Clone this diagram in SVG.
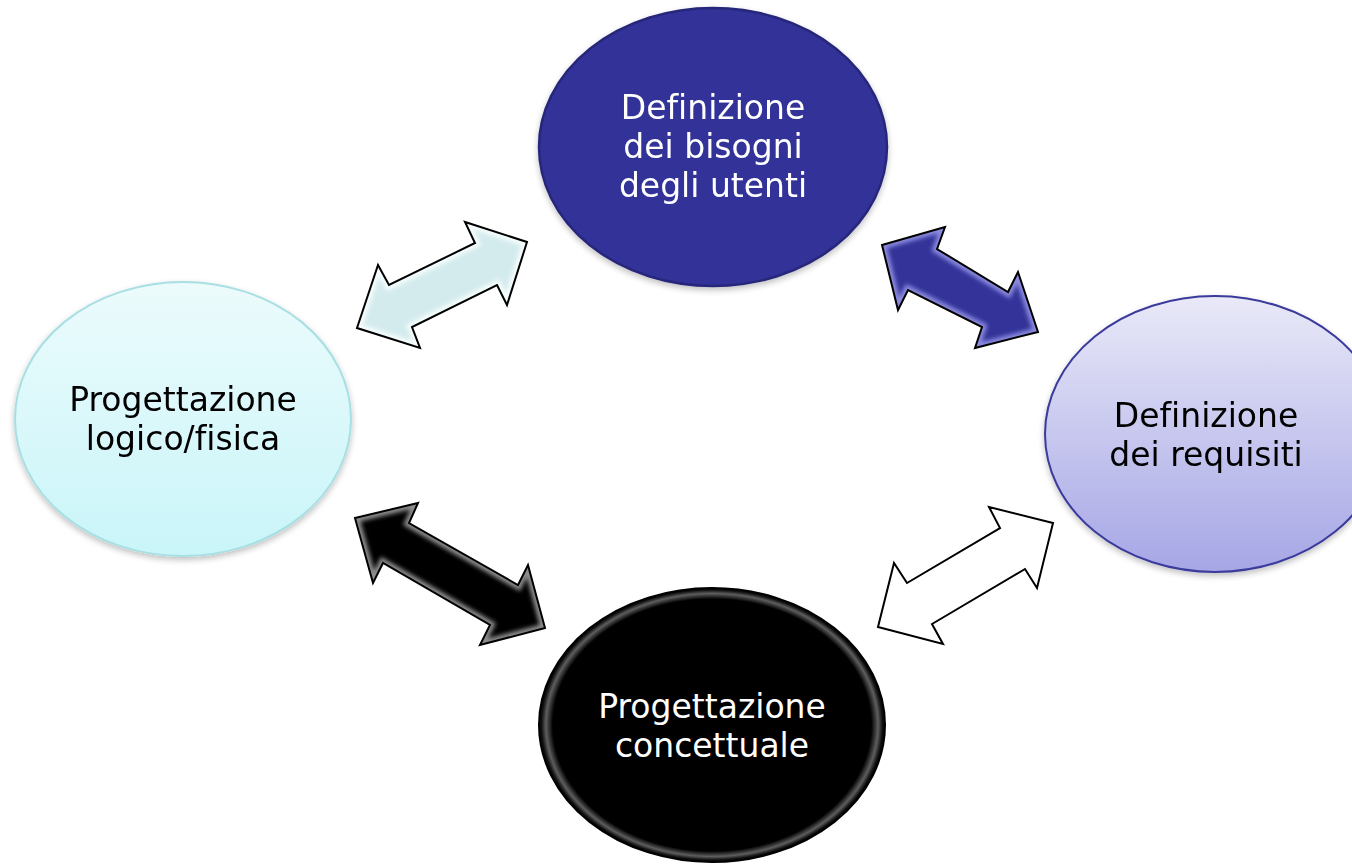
<svg xmlns="http://www.w3.org/2000/svg" xmlns:xlink="http://www.w3.org/1999/xlink" width="1352" height="864" viewBox="0 0 1352 864">
<style>
  .lbl { font-family: "DejaVu Sans", Verdana, sans-serif; font-size: 33px; text-anchor: middle; font-variant-ligatures: none; }
  .w { fill: #ffffff; }
  .k { fill: #000000; }
  .outline { fill: none; stroke: #000000; stroke-width: 2; stroke-linejoin: miter; }
</style>
<defs>
  <linearGradient id="gLeft" x1="0" y1="0" x2="0" y2="1">
    <stop offset="0" stop-color="#ecfbfc"/>
    <stop offset="1" stop-color="#c9f5f9"/>
  </linearGradient>
  <linearGradient id="gRight" x1="0" y1="0" x2="0" y2="1">
    <stop offset="0" stop-color="#e9e9f8"/>
    <stop offset="1" stop-color="#a6a6e6"/>
  </linearGradient>
  <radialGradient id="gBlack" cx="0.5" cy="0.5" r="0.5">
    <stop offset="0" stop-color="#000"/>
    <stop offset="0.92" stop-color="#000"/>
    <stop offset="0.96" stop-color="#5e5e5e"/>
    <stop offset="0.985" stop-color="#111"/>
    <stop offset="1" stop-color="#000"/>
  </radialGradient>
  <filter id="blur" x="-10%" y="-10%" width="120%" height="120%">
    <feGaussianBlur stdDeviation="2"/>
  </filter>
  <filter id="shadow" x="-10%" y="-10%" width="120%" height="125%">
    <feGaussianBlur in="SourceAlpha" stdDeviation="3"/>
    <feOffset dy="3"/>
    <feComponentTransfer><feFuncA type="linear" slope="0.25"/></feComponentTransfer>
    <feMerge><feMergeNode/><feMergeNode in="SourceGraphic"/></feMerge>
  </filter>
  <path id="a1" d="M357,328 L378,265 L389,285 L475,243 L465,222 L527,242 L507,305 L497,285 L412,327 L420,348 Z"/>
  <path id="a2" d="M882,245 L945,227 L937,249 L1008,292 L1018,272 L1038,332 L975,348 L982,327 L908,290 L898,310 Z"/>
  <path id="a3" d="M355,518 L418,503 L409,523 L518,585 L528,565 L545,628 L480,645 L490,625 L383,563 L373,583 Z"/>
  <path id="a4" d="M878,627 L894,563 L907,583 L1000,528 L989,507 L1053,523 L1037,588 L1025,569 L932,624 L943,644 Z"/>
  <clipPath id="c1"><use xlink:href="#a1"/></clipPath>
  <clipPath id="c2"><use xlink:href="#a2"/></clipPath>
  <clipPath id="c3"><use xlink:href="#a3"/></clipPath>
</defs>

<g id="connectors">
  <g id="arrow-top-left">
    <use xlink:href="#a1" fill="#d4ebee"/>
    <g clip-path="url(#c1)">
      <use xlink:href="#a1" fill="none" stroke="#f6fdfd" stroke-width="9" filter="url(#blur)"/>
    </g>
    <use xlink:href="#a1" class="outline"/>
  </g>
  <g id="arrow-top-right">
    <use xlink:href="#a2" fill="#333399"/>
    <g clip-path="url(#c2)">
      <use xlink:href="#a2" fill="none" stroke="#8a8ae0" stroke-width="9" filter="url(#blur)"/>
    </g>
    <use xlink:href="#a2" class="outline"/>
  </g>
  <g id="arrow-bottom-left">
    <use xlink:href="#a3" fill="#000000"/>
    <g clip-path="url(#c3)">
      <use xlink:href="#a3" fill="none" stroke="#8c8c8c" stroke-width="9" filter="url(#blur)"/>
    </g>
    <use xlink:href="#a3" class="outline"/>
  </g>
  <g id="arrow-bottom-right">
    <use xlink:href="#a4" fill="#ffffff"/>
    <use xlink:href="#a4" class="outline"/>
  </g>
</g>

<g id="node-bisogni" filter="url(#shadow)">
  <ellipse cx="713" cy="147" rx="174" ry="139" fill="#333399" stroke="#27277a" stroke-width="2.5"/>
  <text class="lbl w" x="713" y="119">Definizione</text>
  <text class="lbl w" x="713" y="158">dei bisogni</text>
  <text class="lbl w" x="713" y="197">degli utenti</text>
</g>

<g id="node-requisiti" filter="url(#shadow)">
  <ellipse cx="1215" cy="434" rx="170" ry="138" fill="url(#gRight)" stroke="#3a3a9c" stroke-width="2"/>
  <text class="lbl k" x="1206" y="427">Definizione</text>
  <text class="lbl k" x="1206" y="466">dei requisiti</text>
</g>

<g id="node-logico" filter="url(#shadow)">
  <ellipse cx="183" cy="419" rx="168" ry="137" fill="url(#gLeft)" stroke="#a8dfe3" stroke-width="2"/>
  <text class="lbl k" x="183" y="411">Progettazione</text>
  <text class="lbl k" x="183" y="450">logico/fisica</text>
</g>

<g id="node-concettuale">
  <ellipse cx="712" cy="725" rx="173" ry="137" fill="url(#gBlack)" stroke="#000" stroke-width="2"/>
  <text class="lbl w" x="712" y="718">Progettazione</text>
  <text class="lbl w" x="712" y="757">concettuale</text>
</g>
</svg>
